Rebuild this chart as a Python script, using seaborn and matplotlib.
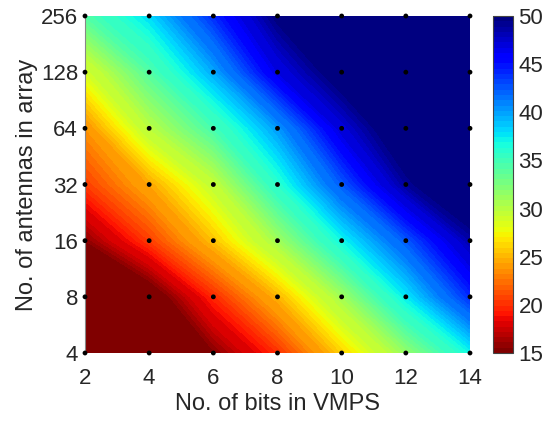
import numpy as np
import matplotlib
matplotlib.use("Agg")
import matplotlib.pyplot as plt
import seaborn as sns
import pandas as pd

# ---- data ----
bits = [2, 4, 6, 8, 10, 12, 14]
antennas = [4, 8, 16, 32, 64, 128, 256]
ant_labels = ["4", "8", "16", "32", "64", "128", "256"]
row_4 = [10.0, 12.0, 15.3, 20.0, 26.0, 31.5, 37.0]
row_8 = [12.0, 13.5, 19.8, 25.0, 31.0, 37.5, 44.0]
row_16 = [15.5, 20.5, 25.5, 31.0, 37.0, 42.5, 48.5]
row_32 = [20.5, 24.5, 29.5, 36.0, 42.5, 49.0, 53.0]
row_64 = [23.5, 30.0, 34.5, 40.0, 47.0, 52.0, 56.0]
row_128 = [28.5, 34.0, 39.5, 46.5, 51.0, 55.0, 58.0]
row_256 = [34.0, 38.0, 44.0, 50.0, 54.0, 57.0, 60.0]
cbar_ticks = [15, 20, 25, 30, 35, 40, 45, 50]

sns.set_style("white")
plt.rcParams['font.family'] = ['Liberation Sans', 'DejaVu Sans']
txt = '#262626'

Z = np.array([row_4, row_8, row_16, row_32, row_64, row_128, row_256])
ypos = np.log2(antennas)
X, Y = np.meshgrid(bits, ypos)

fig = plt.figure(figsize=(5.43, 4.22), dpi=100)
ax = fig.add_axes([85/543, 1-353/422, (470-85)/543, (353-16)/422])
cax = fig.add_axes([493/543, 1-353/422, 20/543, (353-16)/422])

cmap = plt.get_cmap('jet_r', 64)
levels = np.linspace(15, 50, 71)
cs = ax.contourf(X, Y, Z, levels=levels, cmap=cmap, vmin=15, vmax=50, extend='both')

gx, gy = np.meshgrid(bits, ypos)
df = pd.DataFrame({'bits': gx.ravel(), 'ant': gy.ravel()})
sns.scatterplot(data=df, x='bits', y='ant', ax=ax, color='black', s=12,
                edgecolor='none', clip_on=False, zorder=5, legend=False)

ax.set_xlim(2, 14)
ax.set_ylim(ypos[0], ypos[-1])
ax.set_xticks(bits)
ax.set_xticklabels([str(b) for b in bits])
ax.set_yticks(ypos)
ax.set_yticklabels(ant_labels)
ax.tick_params(axis='both', labelsize=16, colors=txt, length=0)
ax.tick_params(axis='x', pad=11)
ax.tick_params(axis='y', pad=5)
ax.set_xlabel('No. of bits in VMPS', fontsize=17, color=txt, labelpad=3)
ax.set_ylabel('No. of antennas in array', fontsize=17, color=txt, labelpad=2)
for s in ['top', 'right', 'bottom']:
    ax.spines[s].set_visible(False)
ax.spines['left'].set_color('#888888')
ax.spines['left'].set_linewidth(0.8)

sm = matplotlib.cm.ScalarMappable(norm=matplotlib.colors.Normalize(15, 50), cmap=cmap)
cb = fig.colorbar(sm, cax=cax)
cb.set_ticks(cbar_ticks)
cb.ax.tick_params(labelsize=16, colors=txt, direction='in', length=3, width=0.6, pad=4)
for lab in cb.ax.get_yticklabels():
    lab.set_color(txt)
cb.outline.set_edgecolor('#444444')
cb.outline.set_linewidth(0.8)

fig.savefig('out.png', dpi=100)
